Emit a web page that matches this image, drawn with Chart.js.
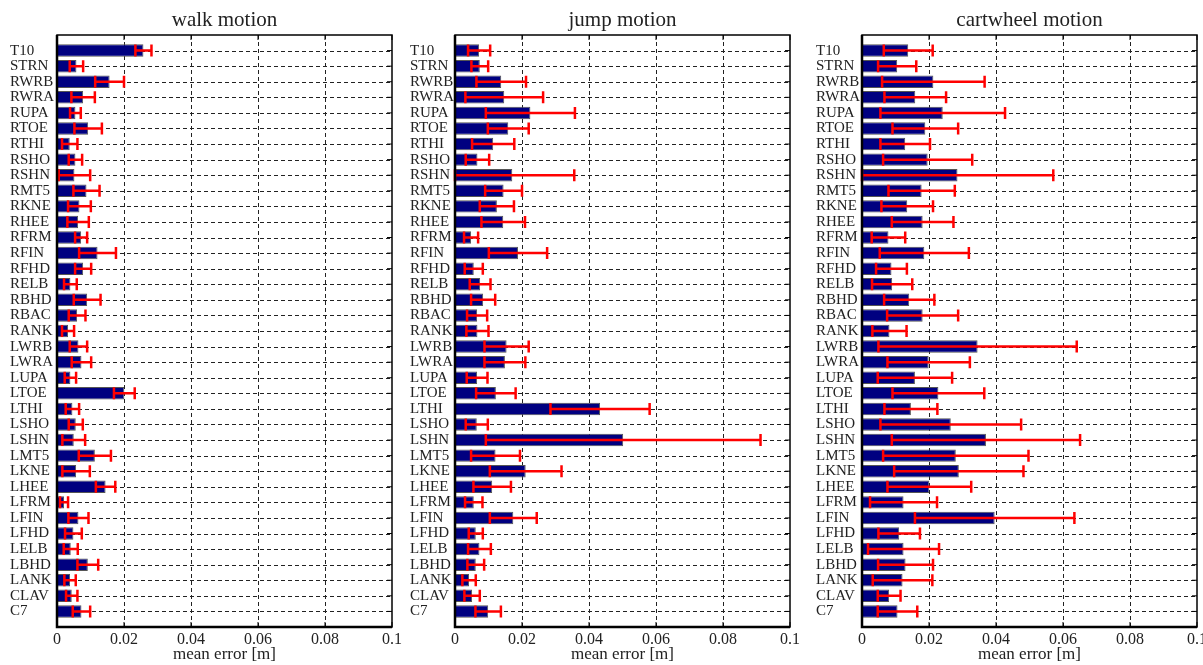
<!DOCTYPE html>
<html>
<head>
<meta charset="utf-8">
<script src="https://cdn.jsdelivr.net/npm/chart.js@4"></script>
<style>
    html, body { margin: 0; padding: 0; background: #fff; overflow: hidden; }
    body { width: 1203px; height: 665px; position: relative; }
    .panel { position: absolute; top: 0; height: 665px; }
</style>
</head>
<body>
<div class="panel" style="left:0;width:405px"><canvas id="walkChart"></canvas></div>
<div class="panel" style="left:400px;width:403px"><canvas id="jumpChart"></canvas></div>
<div class="panel" style="left:800px;width:410px"><canvas id="cartChart"></canvas></div>
<script>
// 마커 이름 (위에서 아래 순서)
const markers = ['T10', 'STRN', 'RWRB', 'RWRA', 'RUPA', 'RTOE', 'RTHI', 'RSHO', 'RSHN', 'RMT5',
    'RKNE', 'RHEE', 'RFRM', 'RFIN', 'RFHD', 'RELB', 'RBHD', 'RBAC', 'RANK', 'LWRB',
    'LWRA', 'LUPA', 'LTOE', 'LTHI', 'LSHO', 'LSHN', 'LMT5', 'LKNE', 'LHEE', 'LFRM',
    'LFIN', 'LFHD', 'LELB', 'LBHD', 'LANK', 'CLAV', 'C7'];

const xTicks = [0, 0.02, 0.04, 0.06, 0.08, 0.1];

// walk
const walkMean = [0.0258, 0.0058, 0.0157, 0.0078, 0.0055, 0.0093, 0.0038, 0.0055, 0.0052, 0.0088,
    0.0067, 0.0063, 0.0072, 0.0121, 0.0078, 0.0040, 0.0090, 0.0060, 0.0033, 0.0064,
    0.0073, 0.0040, 0.0201, 0.0046, 0.0056, 0.0050, 0.0113, 0.0057, 0.0145, 0.0021,
    0.0064, 0.0049, 0.0041, 0.0092, 0.0039, 0.0044, 0.0073];
const walkStd = [0.0024, 0.0020, 0.0043, 0.0035, 0.0016, 0.0041, 0.0023, 0.0020, 0.0047, 0.0039,
    0.0034, 0.0032, 0.0018, 0.0055, 0.0024, 0.0019, 0.0040, 0.0025, 0.0018, 0.0026,
    0.0029, 0.0017, 0.0031, 0.0020, 0.0021, 0.0034, 0.0048, 0.0041, 0.0029, 0.0012,
    0.0030, 0.0025, 0.0021, 0.0031, 0.0017, 0.0017, 0.0026];

// jump
const jumpMean = [0.0072, 0.0074, 0.0138, 0.0147, 0.0225, 0.0159, 0.0114, 0.0067, 0.0171, 0.0145,
    0.0125, 0.0144, 0.0048, 0.0188, 0.0056, 0.0075, 0.0084, 0.0066, 0.0067, 0.0154,
    0.0149, 0.0066, 0.0122, 0.0433, 0.0065, 0.0502, 0.0121, 0.0211, 0.0111, 0.0056,
    0.0174, 0.0062, 0.0073, 0.0062, 0.0042, 0.0051, 0.0099];
const jumpStd = [0.0033, 0.0025, 0.0074, 0.0116, 0.0133, 0.0061, 0.0063, 0.0035, 0.0185, 0.0055,
    0.0051, 0.0065, 0.0021, 0.0087, 0.0027, 0.0031, 0.0036, 0.0030, 0.0033, 0.0066,
    0.0061, 0.0031, 0.0059, 0.0148, 0.0033, 0.0410, 0.0073, 0.0107, 0.0056, 0.0026,
    0.0070, 0.0021, 0.0034, 0.0025, 0.0020, 0.0023, 0.0038];

// cartwheel
const cartMean = [0.0138, 0.0105, 0.0213, 0.0159, 0.0241, 0.0189, 0.0129, 0.0196, 0.0285, 0.0178,
    0.0135, 0.0181, 0.0079, 0.0186, 0.0088, 0.0090, 0.0141, 0.0181, 0.0082, 0.0345,
    0.0199, 0.0158, 0.0228, 0.0146, 0.0265, 0.0370, 0.0280, 0.0289, 0.0201, 0.0124,
    0.0396, 0.0111, 0.0124, 0.0130, 0.0121, 0.0081, 0.0106];
const cartStd = [0.0073, 0.0057, 0.0153, 0.0092, 0.0186, 0.0098, 0.0074, 0.0133, 0.0286, 0.0099,
    0.0077, 0.0092, 0.0050, 0.0133, 0.0046, 0.0060, 0.0075, 0.0106, 0.0051, 0.0296,
    0.0123, 0.0111, 0.0137, 0.0079, 0.0210, 0.0281, 0.0217, 0.0193, 0.0125, 0.0100,
    0.0238, 0.0062, 0.0106, 0.0082, 0.0089, 0.0034, 0.0059];

const FONT = "'Liberation Serif', 'Times New Roman', serif";

// 점선 그리드, 에러바, 테두리, 제목
const panelPlugin = {
    id: 'panelDeco',
    beforeDatasetsDraw(chart) {
        const ctx = chart.ctx;
        const xs = chart.scales.x;
        const ys = chart.scales.y;
        const area = chart.chartArea;
        ctx.save();
        ctx.strokeStyle = '#222';
        ctx.lineWidth = 1;
        ctx.setLineDash([4, 3]);
        ctx.beginPath();
        xTicks.slice(1, -1).forEach(v => {
            const px = Math.round(xs.getPixelForValue(v)) + 0.5;
            ctx.moveTo(px, area.top); ctx.lineTo(px, area.bottom);
        });
        markers.forEach((_, i) => {
            const py = Math.round(ys.getPixelForValue(i + 1)) + 0.5;
            ctx.moveTo(area.left, py); ctx.lineTo(area.right, py);
        });
        ctx.stroke();
        ctx.restore();
    },
    afterDatasetsDraw(chart) {
        const ctx = chart.ctx;
        const xs = chart.scales.x;
        const ys = chart.scales.y;
        const meta = chart.getDatasetMeta(0);
        const std = chart.options.plugins.panelDeco.std;
        const mean = chart.data.datasets[0].data;
        const area = chart.chartArea;

        // 에러바
        ctx.save();
        ctx.strokeStyle = '#ff0000';
        ctx.lineWidth = 2.5;
        meta.data.forEach((bar, i) => {
            const m = mean[i].x;
            const lo = Math.max(0, m - std[i]);
            const hi = m + std[i];
            const x1 = xs.getPixelForValue(lo);
            const x2 = xs.getPixelForValue(hi);
            const y = bar.y;
            ctx.beginPath();
            ctx.moveTo(x1, y); ctx.lineTo(x2, y);
            ctx.moveTo(x1, y - 6); ctx.lineTo(x1, y + 6);
            ctx.moveTo(x2, y - 6); ctx.lineTo(x2, y + 6);
            ctx.stroke();
        });
        ctx.restore();

        // 테두리
        ctx.save();
        ctx.strokeStyle = '#000';
        ctx.lineWidth = 1.5;
        ctx.strokeRect(area.left, area.top, area.right - area.left, area.bottom - area.top);
        ctx.lineWidth = 2.5;
        ctx.beginPath();
        ctx.moveTo(area.left, area.top);
        ctx.lineTo(area.left, area.bottom);
        ctx.lineTo(area.right, area.bottom);
        ctx.stroke();

        // 안쪽 눈금
        ctx.lineWidth = 1;
        ctx.beginPath();
        xTicks.forEach(v => {
            const px = xs.getPixelForValue(v);
            ctx.moveTo(px, area.top); ctx.lineTo(px, area.top + 5);
            ctx.moveTo(px, area.bottom); ctx.lineTo(px, area.bottom - 5);
        });
        markers.forEach((_, i) => {
            const py = ys.getPixelForValue(i + 1);
            ctx.moveTo(area.right, py); ctx.lineTo(area.right - 5, py);
        });
        ctx.stroke();

        // 제목
        ctx.fillStyle = '#222';
        ctx.font = '21px ' + FONT;
        ctx.textAlign = 'center';
        ctx.textBaseline = 'alphabetic';
        ctx.fillText(chart.options.plugins.panelDeco.title, (area.left + area.right) / 2, 26);
        ctx.restore();
    }
};

function makePanel(canvasId, title, means, stds, padLeft, yWidth) {
    return new Chart(document.getElementById(canvasId), {
        type: 'bar',
        data: {
            datasets: [{
                data: means.map((m, i) => ({ x: m, y: i + 1 })),
                backgroundColor: '#000080',
                borderColor: '#555',
                borderWidth: 1,
                barPercentage: 0.8,
                categoryPercentage: 1.0
            }]
        },
        options: {
            indexAxis: 'y',
            responsive: true,
            maintainAspectRatio: false,
            animation: false,
            layout: { padding: { left: padLeft, right: 13, top: 35, bottom: 0 } },
            plugins: {
                legend: { display: false },
                tooltip: { enabled: false },
                panelDeco: { title: title, std: stds }
            },
            scales: {
                x: {
                    type: 'linear',
                    min: 0,
                    max: 0.1,
                    afterBuildTicks: (scale) => { scale.ticks = xTicks.map(v => ({ value: v })); },
                    afterFit: (scale) => { scale.height = 38; },
                    ticks: {
                        color: '#222',
                        font: { family: FONT, size: 16 },
                        padding: 3,
                        maxRotation: 0,
                        callback: (v) => String(v)
                    },
                    grid: { display: false, drawTicks: false },
                    border: { display: false },
                    title: {
                        display: true,
                        text: 'mean error [m]',
                        color: '#222',
                        font: { family: FONT, size: 17 },
                        padding: { top: 0, bottom: 0 }
                    }
                },
                y: {
                    type: 'linear',
                    reverse: true,
                    offset: false,
                    min: 0,
                    max: markers.length + 1,
                    afterBuildTicks: (scale) => { scale.ticks = markers.map((_, i) => ({ value: i + 1 })); },
                    afterFit: (scale) => { scale.width = yWidth; },
                    ticks: {
                        autoSkip: false,
                        crossAlign: 'far',
                        color: '#222',
                        font: { family: FONT, size: 15 },
                        padding: 4,
                        callback: (v) => markers[v - 1] || ''
                    },
                    grid: { display: false, offset: false, drawTicks: false },
                    border: { display: false }
                }
            }
        },
        plugins: [panelPlugin]
    });
}

makePanel('walkChart', 'walk motion', walkMean, walkStd, 10, 47);
makePanel('jumpChart', 'jump motion', jumpMean, jumpStd, 10, 45);
makePanel('cartChart', 'cartwheel motion', cartMean, cartStd, 16, 46);
</script>
</body>
</html>
